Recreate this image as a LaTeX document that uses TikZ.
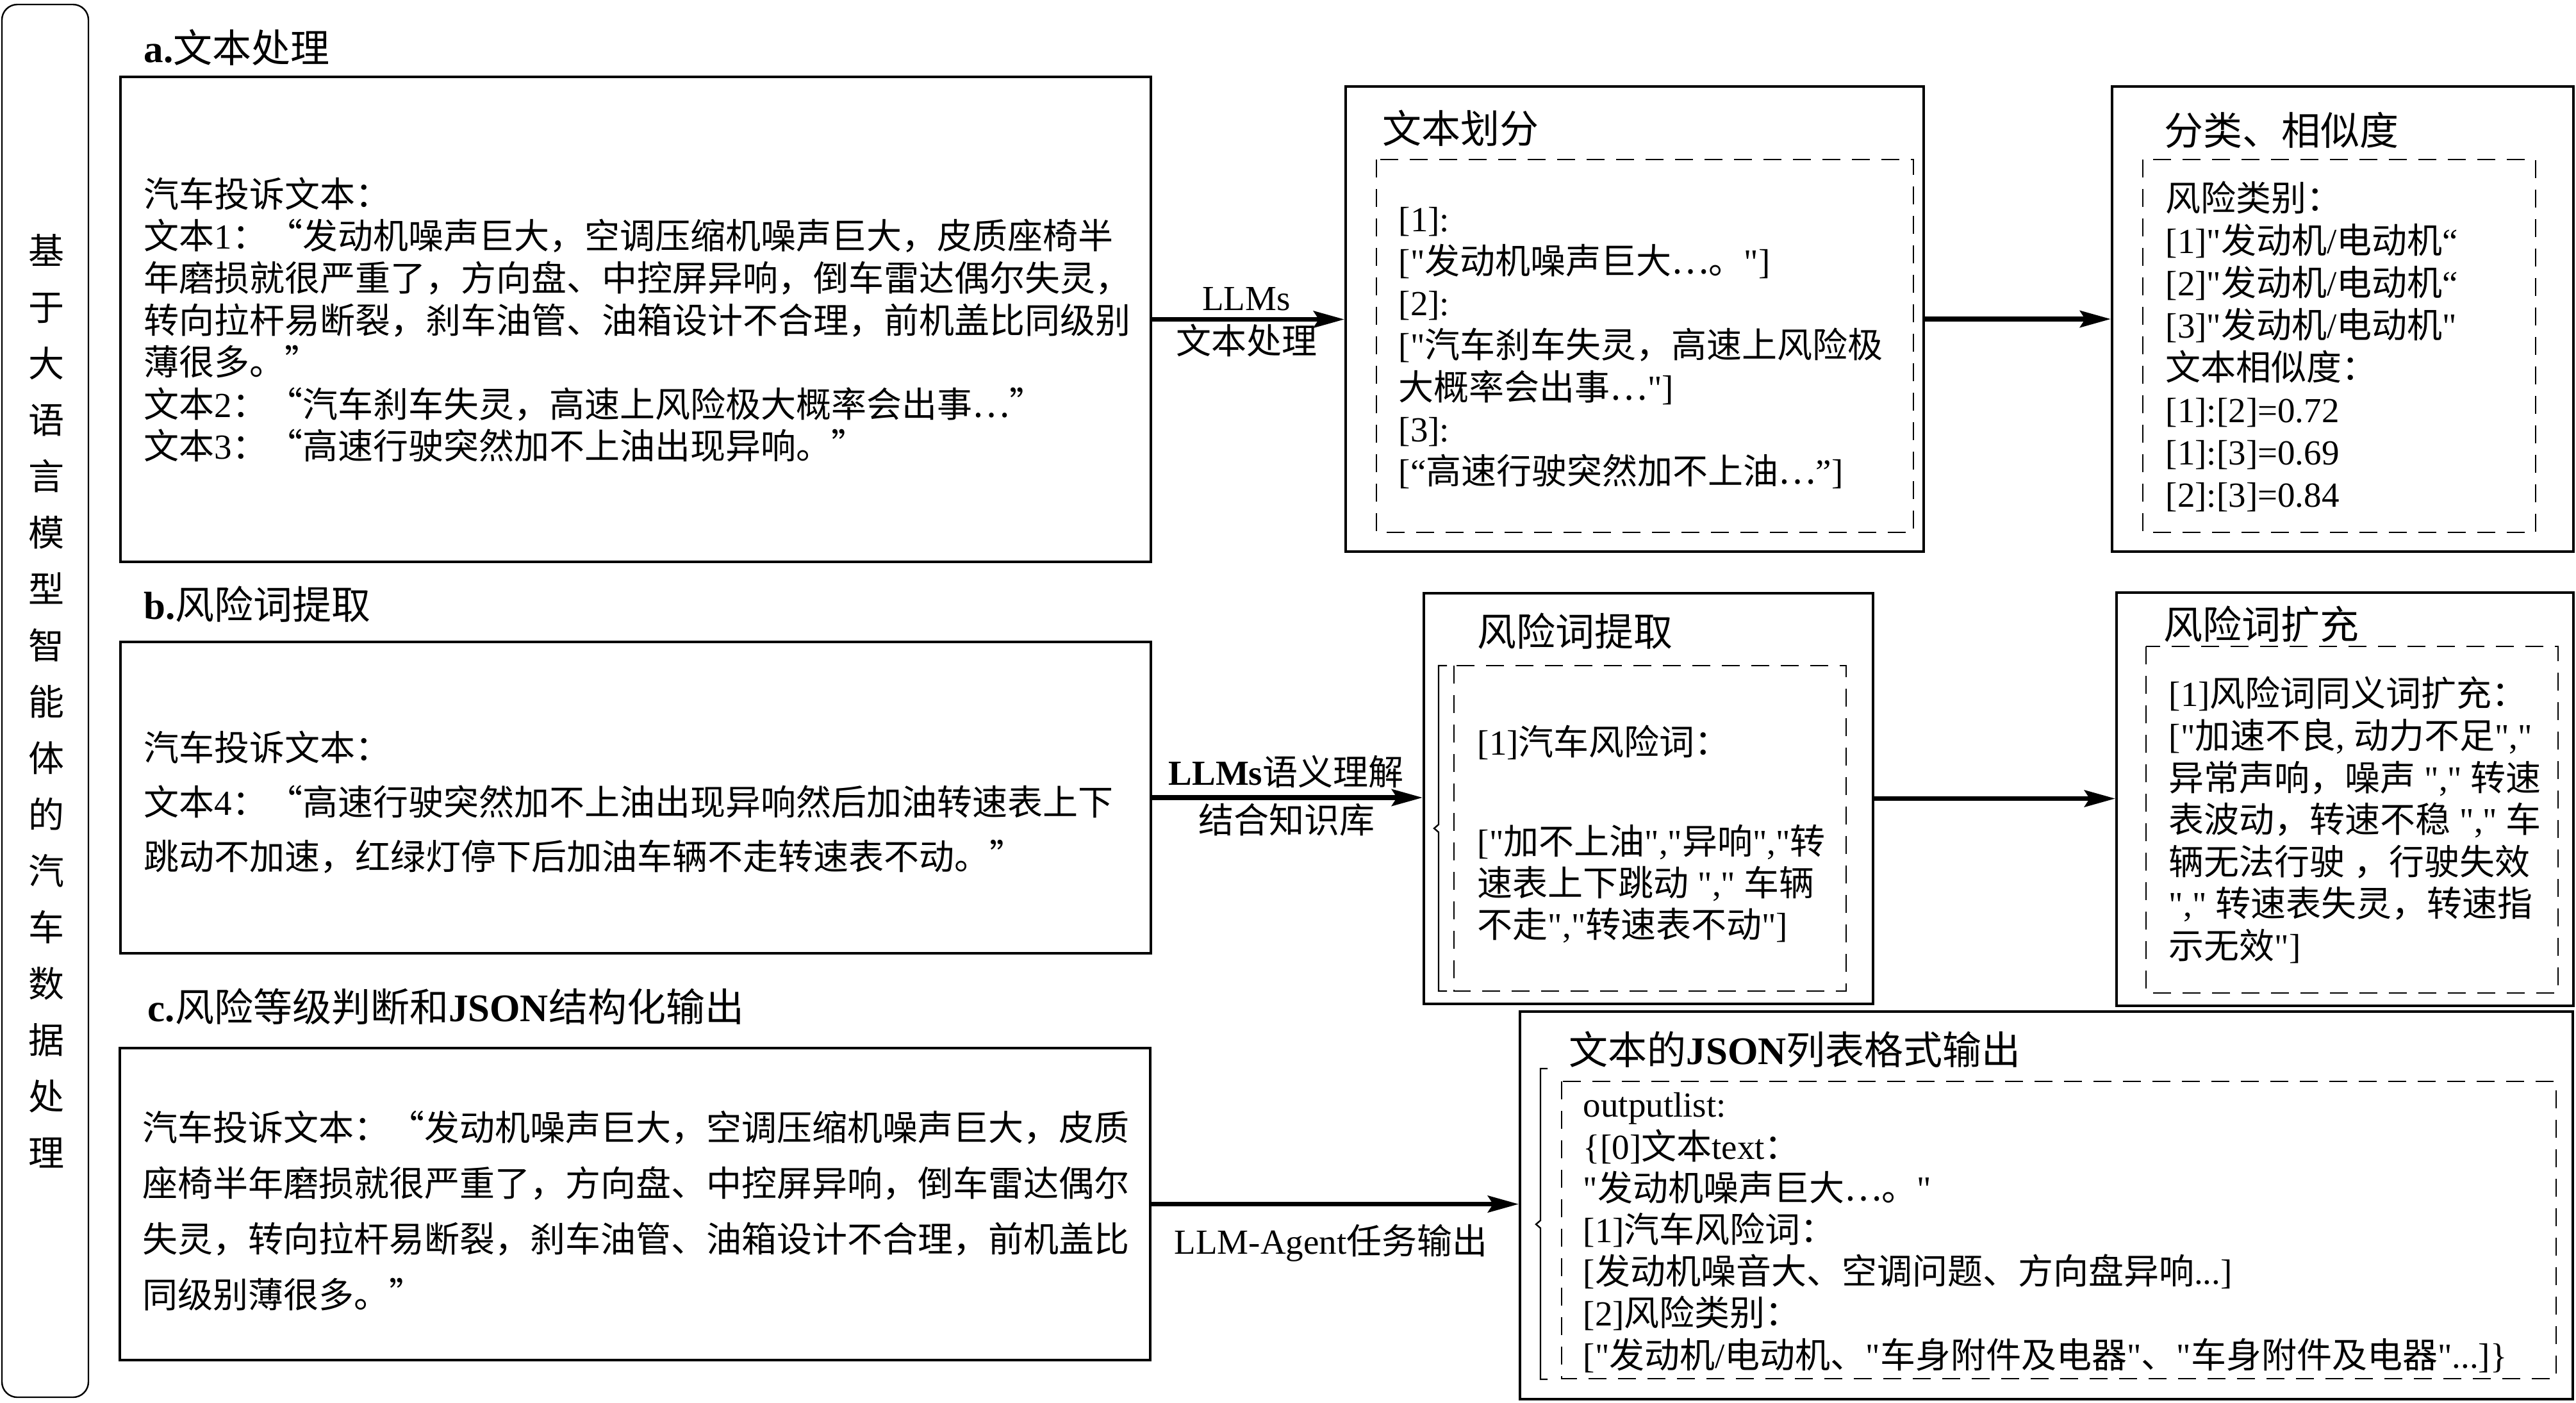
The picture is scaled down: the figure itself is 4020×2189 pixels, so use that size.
\documentclass[tikz,border=0pt]{standalone}
\usepackage{fontspec}
\setmainfont{Liberation Serif}[Ligatures=TeXOff]
\newfontfamily\cjkfont{Noto Sans CJK SC}
\usetikzlibrary{arrows.meta,fit}

% automatic switch to the CJK font for CJK characters
\XeTeXinterchartokenstate=1
\newXeTeXintercharclass\CJKcls
\newcount\cjkcnt
\def\setcharrange#1#2#3{\cjkcnt=#1\relax
  \loop\XeTeXcharclass\cjkcnt=#3\relax
  \ifnum\cjkcnt<#2\relax\advance\cjkcnt by 1\repeat}
\setcharrange{32}{126}{0}
\setcharrange{"2010}{"206F}{0}
\setcharrange{"3000}{"303F}{\CJKcls}
\setcharrange{"4E00}{"9FFF}{\CJKcls}
\setcharrange{"FF00}{"FFEF}{\CJKcls}
\XeTeXcharclass"201C=\CJKcls
\XeTeXcharclass"201D=\CJKcls
\XeTeXcharclass"2026=\CJKcls
\XeTeXinterchartoks 0 \CJKcls={\begingroup\cjkfont}
\XeTeXinterchartoks 4095 \CJKcls={\begingroup\cjkfont}
\XeTeXinterchartoks \CJKcls 0={\endgroup}
\XeTeXinterchartoks \CJKcls 4095={\endgroup}
% Latin-style curly quotes (narrow)
\newcommand\Lq{{\XeTeXinterchartokenstate=0 “}}
\newcommand\Rq{{\XeTeXinterchartokenstate=0 ”}}

\tikzset{
  mainbox/.style={draw, line width=1pt, inner sep=0pt},
  dbox/.style={draw, line width=0.7pt, dash pattern=on 7pt off 4.5pt},
  arr/.style={line width=1.8pt, -{Stealth[length=12pt,width=6.5pt,inset=2pt]}},
  txt/.style={inner sep=0pt, anchor=west, align=left},
  ttl/.style={inner sep=0pt, anchor=west, font=\fontsize{15.25pt}{18pt}\selectfont},
  lbl/.style={inner sep=0pt, font=\fontsize{13.75pt}{16pt}\selectfont},
  brk/.style={draw, line width=0.6pt},
}

\begin{document}
\begin{tikzpicture}[x=0.25pt, y=-0.25pt]
\fill[white] (0,0) rectangle (4020,2189);
\path[use as bounding box] (0,0) rectangle (4020,2189);

% ---- left vertical title
\coordinate (L1) at (3,7); \coordinate (L2) at (138,2181);
\node[fit=(L1)(L2), draw, line width=0.6pt, rounded corners=6pt, inner sep=0pt] (left) {};
\node[inner sep=0pt, align=center, font=\fontsize{14pt}{22pt}\selectfont] (lefttxt) at (72,1094)
  {基\\于\\大\\语\\言\\模\\型\\智\\能\\体\\的\\汽\\车\\数\\据\\处\\理};

% ---- section labels
\node[ttl] (la) at (224,74) {\textbf{a.}文本处理};
\node[ttl] (lb) at (224,943) {\textbf{b.}风险词提取};
\node[ttl] (lc) at (230,1571) {\textbf{c.}风险等级判断和\textbf{JSON}结构化输出};

% ---- boxes
\coordinate (a1) at (188,120);  \coordinate (a2) at (1796,877);
\node[mainbox, fit=(a1)(a2)] (A) {};
\coordinate (b1) at (188,1002); \coordinate (b2) at (1796,1488);
\node[mainbox, fit=(b1)(b2)] (B) {};
\coordinate (c1) at (187,1636); \coordinate (c2) at (1795,2123);
\node[mainbox, fit=(c1)(c2)] (C) {};
\coordinate (d1) at (2100,135); \coordinate (d2) at (3002,861);
\node[mainbox, fit=(d1)(d2)] (A2) {};
\coordinate (e1) at (3296,135); \coordinate (e2) at (4016,861);
\node[mainbox, fit=(e1)(e2)] (A3) {};
\coordinate (f1) at (2222,926); \coordinate (f2) at (2923,1567);
\node[mainbox, fit=(f1)(f2)] (B2) {};
\coordinate (g1) at (3303,925); \coordinate (g2) at (4016,1570);
\node[mainbox, fit=(g1)(g2)] (B3) {};
\coordinate (h1) at (2372,1579); \coordinate (h2) at (4015,2184);
\node[mainbox, fit=(h1)(h2)] (C2) {};

% ---- dashed inner frames
\draw[dbox] (2148,249) rectangle (2986,831);
\draw[dbox] (3344,249) rectangle (3957,831);
\draw[dbox] (2269,1039) rectangle (2881,1547);
\draw[dbox] (3349,1009) rectangle (3992,1550);
\draw[dbox] (2437,1688) rectangle (3989,2152);

% ---- small brackets
\draw[brk] (2258,1039) -- (2245,1039) -- (2245,1287) -- (2238,1293) -- (2245,1299) -- (2245,1547) -- (2258,1547);
\draw[brk] (2415,1668) -- (2404,1668) -- (2404,1905) -- (2397,1911) -- (2404,1917) -- (2404,2153) -- (2415,2153);

% ---- titles inside right boxes
\node[ttl] (tA2) at (2157,200) {文本划分};
\node[ttl] (tA3) at (3377,203) {分类、相似度};
\node[ttl] (tB2) at (2305,985) {风险词提取};
\node[ttl] (tB3) at (3376,974) {风险词扩充};
\node[ttl] (tC2) at (2448,1638) {文本的\textbf{JSON}列表格式输出};

% ---- texts
\node[txt, font=\fontsize{13.75pt}{16.4pt}\selectfont] (xa) at (224,499) {汽车投诉文本：\\
文本1：“发动机噪声巨大，空调压缩机噪声巨大，皮质座椅半\\
年磨损就很严重了，方向盘、中控屏异响，倒车雷达偶尔失灵，\\
转向拉杆易断裂，刹车油管、油箱设计不合理，前机盖比同级别\\
薄很多。”\\
文本2：“汽车刹车失灵，高速上风险极大概率会出事…”\\
文本3：“高速行驶突然加不上油出现异响。”};

\node[txt, font=\fontsize{13.75pt}{21.25pt}\selectfont] (xb) at (224,1252) {汽车投诉文本：\\
文本4：“高速行驶突然加不上油出现异响然后加油转速表上下\\
跳动不加速，红绿灯停下后加油车辆不走转速表不动。”};

\node[txt, font=\fontsize{13.75pt}{21.7pt}\selectfont] (xc) at (222,1890) {汽车投诉文本：“发动机噪声巨大，空调压缩机噪声巨大，皮质\\
座椅半年磨损就很严重了，方向盘、中控屏异响，倒车雷达偶尔\\
失灵，转向拉杆易断裂，刹车油管、油箱设计不合理，前机盖比\\
同级别薄很多。”};

\node[txt, font=\fontsize{13.75pt}{16.4pt}\selectfont] (xa2) at (2182,543) {{[}1]:\\
{[}"发动机噪声巨大…。"]\\
{[}2]:\\
{[}"汽车刹车失灵，高速上风险极\\
大概率会出事…"]\\
{[}3]:\\
{[}\Lq 高速行驶突然加不上油…\Rq]};

\node[txt, font=\fontsize{13.75pt}{16.5pt}\selectfont] (xa3) at (3379,541) {风险类别：\\
{[}1]"发动机/电动机\Lq\\
{[}2]"发动机/电动机\Lq\\
{[}3]"发动机/电动机"\\
文本相似度：\\
{[}1]:[2]=0.72\\
{[}1]:[3]=0.69\\
{[}2]:[3]=0.84};

\node[txt, font=\fontsize{13.75pt}{16.25pt}\selectfont] (xb2a) at (2305,1159) {{[}1]汽车风险词：};
\node[txt, font=\fontsize{13.75pt}{16.25pt}\selectfont] (xb2b) at (2305,1380) {{[}"加不上油","异响","转\\
速表上下跳动 "," 车辆\\
不走","转速表不动"]};

\node[txt, font=\fontsize{13.75pt}{16.4pt}\selectfont] (xb3) at (3384,1280) {{[}1]风险词同义词扩充：\\
{[}"加速不良, 动力不足","\\
异常声响，噪声 "," 转速\\
表波动，转速不稳 "," 车\\
辆无法行驶 ，行驶失效\\
"," 转速表失灵，转速指\\
示无效"]};

\node[txt, font=\fontsize{13.75pt}{16.3pt}\selectfont] (xc2) at (2470,1924) {outputlist:\\
\{[0]文本text：\\
"发动机噪声巨大…。"\\
{[}1]汽车风险词：\\
{[}发动机噪音大、空调问题、方向盘异响...]\\
{[}2]风险类别：\\
{[}"发动机/电动机、"车身附件及电器"、"车身附件及电器"...]\}};

% ---- connectors
\draw[arr] (A.east) -- (A.east -| A2.west);
\draw[arr] (A2.east) -- (A2.east -| A3.west);
\draw[arr] (B.east) -- (B.east -| B2.west);
\draw[arr] (B2.east) -- (B2.east -| B3.west);
\draw[arr] (C.east) -- (C.east -| C2.west);

% ---- connector labels
\node[lbl] (la1) at (1945,467) {LLMs};
\node[lbl] (la2) at (1945,531) {文本处理};
\node[lbl] (lb1) at (2007,1205) {\textbf{LLMs}语义理解};
\node[lbl] (lb2) at (2008,1280) {结合知识库};
\node[lbl] (lc1) at (2077,1940) {LLM-Agent任务输出};
\end{tikzpicture}
\end{document}
